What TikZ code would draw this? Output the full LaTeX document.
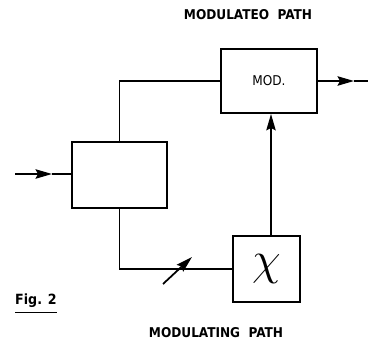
\documentclass[tikz,border=0pt]{standalone}
\usepackage{fontspec}
\setsansfont{DejaVu Sans}
\newfontfamily\condfont{DejaVu Sans Condensed}
\usetikzlibrary{arrows.meta,positioning,calc}

\begin{document}
\begin{tikzpicture}[
    x=0.03cm, y=-0.03cm,
    block/.style={rectangle, draw, line width=1.6pt, align=center, font=\condfont\fontsize{11.5}{13}\selectfont},
    path/.style={line width=1.5pt},
    flow/.style={line width=1.5pt, -{Stealth[length=14pt, width=8pt, inset=2pt]}},
    caption/.style={font=\condfont\bfseries\fontsize{11.5}{13}\selectfont, inner sep=0pt}
]
\useasboundingbox (0,0) rectangle (368,342);

% Blocks
\node[block, minimum width=95*0.03cm, minimum height=66*0.03cm] (split) at (119.5,175) {};
\node[block, minimum width=96*0.03cm, minimum height=64*0.03cm] (mod) at (269,81) {MOD.};
\node[block, minimum width=67*0.03cm, minimum height=66*0.03cm, font=\fontsize{24.88}{26}\selectfont] (chi) at (266.5,269) {\scalebox{1.6}{$\chi$}};

% Free ends
\coordinate (in) at (15,174);
\coordinate (inmid) at (52,174);
\coordinate (outmid) at (354,81);
\coordinate (out) at (368,81);
\coordinate (att1) at (163,284);
\coordinate (att2) at (192,257);

% Input and output
\draw[flow] (in) -- (inmid);
\draw[path] (inmid) -- (split.west |- inmid);
\draw[flow] (mod.east) -- (outmid);
\draw[path] (outmid) -- (out);

% Modulated path
\draw[path] (split.north) |- (mod.west);

% Modulating path
\draw[path] (split.south) |- (chi.west);
\draw[flow] (chi.north -| 271,0) -- (mod.south -| 271,0);
\draw[flow] (att1) -- (att2);

% Captions
\node[caption] (modulated) at (248,15) {MODULATEO\ \ PATH};
\node[caption] (modulating) at (216,333) {MODULATING\ \ PATH};
\node[caption, anchor=west, font=\condfont\bfseries\fontsize{12}{14}\selectfont] (fig) at (15,301) {Fig. 2};
\draw[line width=1pt] ($(fig.south west)+(0,4)$) -- ($(fig.south east)+(0,4)$);
\end{tikzpicture}
\end{document}
